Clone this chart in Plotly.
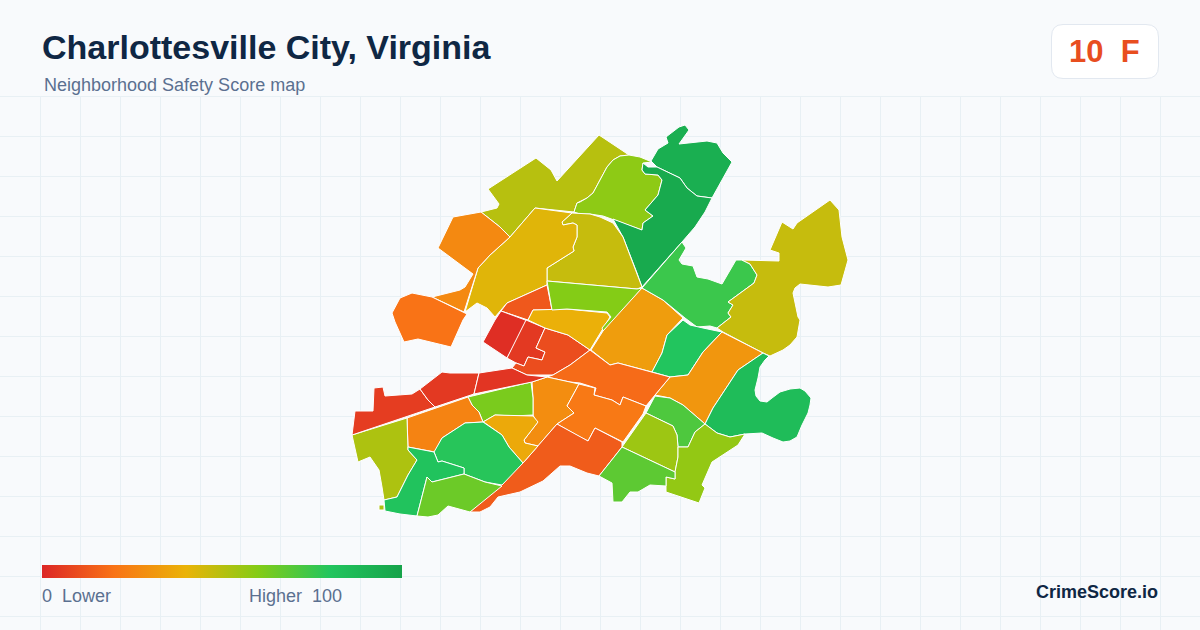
import plotly.graph_objects as go
from plotly.colors import sample_colorscale

# Neighborhood outlines, (x, y) in map units
nw_olive = [(481,212),(497,208),(499,204),(488,189),(536,158),(551,170),(557,181),(599,135),(629,155),(620,156),(613,160),(607,167),(600,180),(593,193),(587,198),(580,202),(577,203),(574,212),(535,208),(510,237),(500,227)]
north_lime = [(629,155),(640,157),(652,162),(643,163),(642,170),(645,174),(658,175),(662,180),(658,195),(645,210),(653,216),(643,223),(642,230),(613,219),(603,216),(590,214),(580,214),(574,212),(577,203),(580,202),(587,198),(593,193),(600,180),(607,167),(613,160),(620,156)]
north_green = [(651,161),(658,149),(668,143),(666,137),(679,127),(685,125),(689,130),(679,144),(707,141),(717,143),(723,153),(732,162),(712,198),(697,196),(687,188),(680,178),(657,167)]
north_dark = [(648,167),(657,167),(680,178),(687,188),(697,196),(712,198),(705,212),(695,227),(682,242),(642,287),(637,273),(623,237),(613,219),(642,230),(643,223),(653,216),(645,210),(658,195),(662,180),(658,175),(645,174),(642,170),(643,163)]
center_olive = [(572,213),(590,214),(600,217),(613,223),(623,237),(637,273),(642,287),(637,289),(580,284),(547,281),(547,268),(574,251),(573,247),(577,237),(577,225),(573,223),(563,225),(562,222)]
big_amber = [(535,208),(572,213),(562,222),(563,225),(573,223),(577,225),(577,237),(573,247),(574,251),(547,268),(547,285),(507,303),(495,317),(487,308),(477,303),(465,312),(478,268),(490,255),(510,237)]
nw_orange = [(481,212),(453,217),(438,248),(473,274),(465,287),(460,290),(432,297),(464,312),(478,268),(490,255),(510,237),(500,227)]
west_orange = [(412,293),(432,297),(467,314),(463,320),(451,347),(418,339),(404,342),(395,322),(392,313),(400,298)]
small_orange = [(547,285),(552,310),(533,310),(528,320),(501,311),(507,303)]
uni_red = [(501,311),(528,321),(507,358),(483,342),(495,320)]
uni_red2 = [(526,320),(545,328),(536,348),(545,352),(542,360),(528,357),(524,366),(516,363),(507,358)]
uni_red3 = [(545,328),(568,335),(590,350),(570,365),(553,375),(527,375),(512,368),(516,363),(524,366),(528,357),(542,360),(545,352),(536,348)]
mid_amber = [(528,320),(533,310),(567,309),(607,313),(610,317),(602,330),(590,350),(568,335),(545,328)]
mid_lime = [(547,281),(580,284),(637,289),(642,288),(613,322),(603,331),(602,328),(611,317),(607,312),(567,309),(552,310)]
east_amber = [(642,288),(663,300),(683,318),(667,335),(662,353),(652,372),(618,363),(610,365),(591,350),(603,331)]
ne_green = [(682,242),(686,248),(679,260),(682,264),(693,266),(697,277),(708,279),(722,284),(736,260),(742,260),(750,264),(757,275),(754,283),(728,302),(733,305),(728,313),(731,317),(717,328),(710,326),(697,327),(685,318),(663,300),(642,288)]
ne_olive = [(742,260),(779,261),(779,253),(770,250),(782,222),(793,229),(797,223),(830,200),(839,210),(842,237),(848,260),(841,285),(828,287),(800,284),(795,288),(793,293),(798,317),(800,320),(797,337),(790,345),(783,350),(770,356),(763,353),(723,332),(717,328),(731,317),(728,313),(733,305),(728,302),(754,283),(757,275),(750,264)]
east_green = [(683,320),(690,325),(703,328),(722,332),(703,352),(688,375),(670,377),(652,372),(662,353),(667,335)]
east_orange = [(722,332),(763,353),(738,370),(713,408),(705,424),(683,405),(670,398),(655,395),(670,377),(688,375),(703,352)]
se_green = [(769,356),(765,360),(760,367),(758,378),(755,390),(756,396),(760,401),(767,402),(772,398),(780,392),(790,389),(800,388),(805,391),(811,398),(810,405),(808,413),(802,425),(797,437),(790,441),(783,442),(773,438),(762,433),(745,434),(730,437),(717,433),(705,424),(713,408),(738,370),(763,353)]
band_orange = [(590,350),(610,365),(618,363),(652,372),(670,377),(655,395),(646,406),(623,397),(620,405),(612,400),(594,395),(596,388),(580,383),(570,382),(547,377),(553,375),(570,365)]
core_orange = [(532,382),(547,377),(570,382),(579,384),(567,406),(574,413),(557,424),(538,446),(525,443),(524,440),(537,423),(533,415),(533,398)]
core_orange2 = [(579,384),(595,388),(594,395),(612,400),(620,405),(623,397),(646,406),(643,414),(623,442),(595,428),(588,441),(580,437),(557,424),(574,413),(567,406)]
south_orange = [(557,424),(580,437),(588,441),(595,428),(622,442),(622,447),(599,476),(587,473),(570,466),(560,466),(543,481),(520,492),(498,497),(490,507),(480,512),(470,512),(523,463)]
rail_lime = [(531,382),(533,398),(533,415),(513,416),(495,415),(483,422),(479,412),(472,405),(468,397)]
rail_amber = [(483,422),(495,415),(533,416),(538,422),(524,440),(525,443),(538,446),(523,463),(509,447),(502,435),(485,423)]
sw_orange = [(407,418),(468,397),(472,405),(479,412),(483,422),(465,423),(442,438),(435,452),(408,447)]
sw_green = [(483,422),(502,435),(509,447),(523,463),(502,485),(485,482),(464,474),(464,468),(442,461),(438,462),(434,452),(442,438),(465,423)]
sw_olive = [(407,418),(408,447),(408,450),(417,460),(408,475),(397,497),(384,500),(382,487),(379,470),(370,457),(358,462),(352,435)]
sw_speck = [(379,505),(384,505),(384,510),(379,510)]
sw_green2 = [(408,447),(434,452),(438,462),(442,461),(464,468),(464,474),(432,482),(427,477),(417,516),(400,514),(385,511),(384,500),(397,497),(408,475),(417,460),(408,450)]
sw_lime = [(427,477),(432,482),(464,474),(485,482),(502,486),(470,512),(448,506),(438,515),(428,517),(417,516)]
west_red = [(352,435),(355,411),(373,411),(374,388),(383,387),(385,396),(412,394),(420,389),(428,400),(435,407)]
west_red2 = [(420,389),(442,372),(450,373),(479,373),(474,394),(435,407),(428,400)]
west_red3 = [(479,373),(512,368),(527,375),(547,377),(532,382),(474,394)]
se_green2 = [(655,396),(670,398),(683,405),(705,424),(695,432),(688,447),(678,447),(677,435),(673,426),(646,413)]
se_olive = [(646,413),(673,426),(677,435),(678,447),(678,457),(675,472),(622,447)]
se_lime = [(678,447),(688,447),(695,432),(705,424),(717,433),(730,437),(745,434),(738,445),(712,462),(702,485),(705,488),(699,503),(666,492),(666,477),(675,479),(675,472),(678,457)]
south_green = [(622,447),(675,472),(675,479),(666,477),(666,486),(650,485),(638,492),(630,492),(622,502),(613,502),(612,483),(599,476)]

outlines = [nw_olive, north_lime, north_green, north_dark, center_olive, big_amber, nw_orange, west_orange,
            small_orange, uni_red, uni_red2, uni_red3, mid_amber, mid_lime, east_amber, ne_green, ne_olive,
            east_green, east_orange, se_green, band_orange, core_orange, core_orange2, south_orange, rail_lime,
            rail_amber, sw_orange, sw_green, sw_olive, sw_speck, sw_green2, sw_lime, west_red, west_red2,
            west_red3, se_green2, se_olive, se_lime, south_green]
scores = [50, 58, 93, 96, 47, 42, 27, 20,
          13, 2, 5, 10, 39, 60, 33, 75, 47,
          80, 31, 85, 18, 28, 22, 14, 62,
          37, 25, 79, 52, 52, 81, 65, 6, 5,
          4, 71, 55, 57, 68]

scale_stops = [0, 0.2, 0.4, 0.6, 0.8, 1]
scale_colors = ["#dc2626", "#f97316", "#eab308", "#84cc16", "#22c55e", "#16a34a"]
colorscale = [[s, c] for s, c in zip(scale_stops, scale_colors)]

bg = "#f8fafc"
navy = "#0f2744"
slate = "#5b7090"

fig = go.Figure()

for outline, score in zip(outlines, scores):
    xs = [p[0] for p in outline] + [outline[0][0]]
    ys = [p[1] for p in outline] + [outline[0][1]]
    fig.add_trace(go.Scatter(
        x=xs, y=ys, mode="lines", fill="toself",
        fillcolor=sample_colorscale(colorscale, score / 100)[0],
        line=dict(color="white", width=1),
        hoverinfo="skip", showlegend=False
    ))

# Legend bar: the colorbar of an off-canvas point
fig.add_trace(go.Scatter(
    x=[-100], y=[-100], mode="markers", showlegend=False, hoverinfo="skip",
    marker=dict(
        color=[0], cmin=0, cmax=100, colorscale=colorscale, showscale=True,
        colorbar=dict(
            orientation="h", x=42 / 1200, xanchor="left", y=1 - 578 / 630, yanchor="bottom",
            lenmode="pixels", len=360, thickness=13, thicknessmode="pixels",
            xpad=0, ypad=0, outlinewidth=0, borderwidth=0, showticklabels=False, ticks=""
        )
    )
))

# Header band hides the grid, then the score badge
fig.add_shape(type="rect", x0=0, x1=1200, y0=0, y1=96, fillcolor=bg, line_width=0, layer="between")
fig.add_shape(
    type="path", layer="between", fillcolor="white", line=dict(color="#e2e8f0", width=1),
    path="M1063,24.5 H1146 Q1158.5,24.5 1158.5,37 V66 Q1158.5,78.5 1146,78.5 H1063 "
         "Q1051.5,78.5 1051.5,66 V37 Q1051.5,24.5 1063,24.5 Z"
)


def label(x, y, text, size, color, anchor="left", bold=False):
    shift = {"left": -2, "right": 2, "center": 0}[anchor]
    fig.add_annotation(
        x=x, y=y, text=f"<b>{text}</b>" if bold else text, showarrow=False, xanchor=anchor, yanchor="middle",
        xshift=shift, font=dict(family="Liberation Sans", size=size, color=color), xref="x", yref="y"
    )


label(42, 47, "Charlottesville City, Virginia", 34, navy, bold=True)
label(44, 85, "Neighborhood Safety Score map", 18, slate)
label(1104.5, 51, "10\u00a0\u00a0F", 31, "#e84e1f", anchor="center", bold=True)
label(42, 596, "0\u00a0\u00a0Lower", 18, slate)
label(342, 596, "Higher\u00a0\u00a0100", 18, slate, anchor="right")
label(1158, 592, "CrimeScore.io", 18, navy, anchor="right", bold=True)

grid = "#e8f0f4"
fig.update_xaxes(range=[0, 1200], tick0=0.5, dtick=40, showgrid=True, gridcolor=grid, gridwidth=1,
                 zeroline=False, showticklabels=False, ticks="", fixedrange=True)
fig.update_yaxes(range=[630, 0], tick0=96.5, dtick=40, showgrid=True, gridcolor=grid, gridwidth=1,
                 zeroline=False, showticklabels=False, ticks="", fixedrange=True)
fig.update_layout(width=1200, height=630, margin=dict(l=0, r=0, t=0, b=0),
                  paper_bgcolor=bg, plot_bgcolor=bg, showlegend=False)

fig.write_html("out.html", config={"displayModeBar": False},
               post_script="document.body.style.margin='0';document.body.style.overflow='hidden';")
